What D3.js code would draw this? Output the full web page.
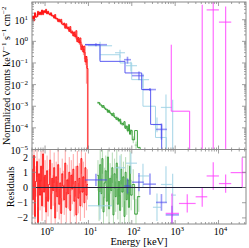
<!DOCTYPE html>
<html>
<head>
<meta charset="utf-8">
<script src="https://cdn.jsdelivr.net/npm/d3@7"></script>
<style>
body { margin: 0; background: #fff; }
svg { display: block; }
text { font-family: "Liberation Serif", "DejaVu Serif", serif; fill: #000; }
</style>
</head>
<body>
<div id="chart"></div>
<script>
// red: dense low energy spectrum
var redE = [0.500,0.527,0.556,0.587,0.619,0.653,0.689,0.727,0.767,0.809,0.853,0.900,0.950,1.002,1.057,1.115,1.176,1.241,1.309,1.381,1.457,1.537,1.622,1.711,1.805,1.904,2.009,2.119,2.236,2.359,2.488,2.625,2.770,2.922,3.082,3.252,3.431,3.619,3.818,4.028,4.250,4.483,4.730,4.990,5.264,5.554,5.859,6.181,6.521,6.880,7.258,7.657,8.078,8.523,8.991,9.486];
var redF = [11,13,12,15,14,17,16,19,21,20,24,22,25,23,24,21,22,19,20,17,16,15,14,12.5,12,10.5,10,8.8,8.5,7.6,7.2,6.1,6.0,5.2,4.9,4.3,4.1,3.5,3.3,2.9,2.7,2.3,2.1,1.8,1.6,1.35,1.2,1.0,0.85,0.7,0.55,0.42,0.3,0.2,0.11,0.07];
var redErr = [0.18,0.16,0.17,0.15,0.16,0.14,0.15,0.13,0.14,0.13,0.12,0.13,0.12,0.12,0.13,0.12,0.12,0.13,0.12,0.13,0.13,0.13,0.14,0.14,0.14,0.15,0.15,0.15,0.16,0.16,0.17,0.17,0.18,0.18,0.19,0.19,0.2,0.21,0.21,0.22,0.23,0.24,0.25,0.26,0.27,0.29,0.3,0.32,0.34,0.37,0.4,0.45,0.5,0.6,0.9,1.2];
var redRes = [1.2,-0.8,2.1,-1.9,0.4,1.7,-2.3,0.9,-0.5,1.4,-1.2,2.2,-0.3,0.8,-1.6,1.1,-0.9,0.2,1.8,-1.4,0.6,-0.2,1.3,-2.0,0.7,-0.6,1.5,-1.1,0.3,-1.7,0.9,0.1,-0.8,1.6,-1.3,0.5,-0.4,1.0,-1.5,0.8,-0.1,1.2,-0.9,0.4,-1.8,1.4,-0.7,0.6,-1.2,1.9,-0.3,0.7,-1.0,1.3,-0.5,0.2];

// green: hard x-ray spectrum
var greenE = [16.6,17.6,18.7,19.8,21.0,22.3,23.7,25.1,26.6,28.2,29.9,31.7,33.6,35.6,37.8,40.1,42.5,45.1,47.8,50.7,53.8,57.0,60.5,64.1,68.0,72.1,76.5,81.1,86.0,91.2,96.7,108,125,145];
var greenF = [1.5e-3,1.35e-3,1.3e-3,1.1e-3,1.05e-3,9.0e-4,8.5e-4,7.8e-4,6.6e-4,6.4e-4,5.5e-4,5.3e-4,4.4e-4,4.3e-4,3.7e-4,3.5e-4,2.8e-4,3.0e-4,2.4e-4,2.2e-4,1.9e-4,1.8e-4,1.5e-4,1.6e-4,1.2e-4,1.15e-4,1.0e-4,8.0e-5,9.5e-5,7.0e-5,6.5e-5,3.0e-5,1.6e-5,8e-6];
var greenErr = [0.08,0.08,0.09,0.09,0.09,0.1,0.1,0.1,0.11,0.11,0.11,0.12,0.12,0.13,0.13,0.14,0.14,0.15,0.15,0.16,0.17,0.17,0.18,0.19,0.2,0.21,0.22,0.23,0.25,0.27,0.3,0.35,0.45,0.6];
var greenRes = [0.8,-1.2,1.5,-0.4,1.9,-1.6,0.3,1.1,-0.9,2.0,-1.4,0.6,-0.2,1.3,-1.8,0.9,-0.6,1.6,-1.1,0.4,-1.5,1.2,-0.3,0.7,-1.9,1.0,-0.8,0.5,-1.3,1.4,-0.5,0.2,-1.75,-0.6];

// dark blue instrument
var blueModelEdges = [8.35,18.5,69.7,169,272,489];
var blueModelF = [0.70,0.119,0.0346,5.9e-3,1.44e-4];
var blueE = [14.9,79.6,146.5,262.6,483,844];
var blueELo = [8.35,66.1,101,181,361,604];
var blueEHi = [26.8,95.8,190,361,646,1223];
var blueF = [0.70,0.142,0.026,5.9e-3,8.5e-5,5e-6];
var blueFLo = [0.60,0.093,0.017,5.0e-3,2.9e-5,2e-6];
var blueFHi = [0.82,0.195,0.04,6.9e-3,1.6e-4,8e-6];
var blueRes = [0.5,0.1,0.35,0.22,-0.98,-1.8];
var blueResErr = [0.4,0.5,0.6,0.7,0.55,0.6];

// light blue instrument
var cyanModelEdges = [18.5,53.5,99.5,181,352,630];
var cyanModelF = [0.241,0.1,0.017,1.0e-3,3.6e-5];
var cyanE = [18.5,53.5,95.3,181,381,614,875];
var cyanELo = [9.8,41,73.5,139,307,469,804];
var cyanEHi = [35.1,69.7,132,250,470,840,1040];
var cyanF = [0.627,0.298,0.075,0.017,1.4e-4,8.8e-4,1e-7];
var cyanFLo = [0.142,0.176,0.04,7.2e-3,6.2e-5,1e-8,1e-8];
var cyanFHi = [0.96,0.41,0.115,0.032,3.0e-4,3.5e-3,2.0e-3];
var cyanRes = [-1.2,1.3,1.6,0.76,-1.3,0.2,-0.5];
var cyanResErr = [0.9,0.8,0.7,0.8,0.9,1.2,1.4];

// magenta instrument
var magModelEdges = [813,813,2158];
var magModelF = [0.70,5.9e-4];
var magE = [844,1900,4207,7551,14584,35163];
var magELo = [604,1223,2967,5321,10216,19010];
var magEHi = [1223,2967,5495,10216,19634,45100];
var magF = [1e-7,1e-7,1e-7,28.5,7.75,1e-7];
var magFLo = [1e-8,1e-8,1e-8,1e-8,1e-8,1e-8];
var magFHi = [1e-7,1e-7,48.6,1e4,40.6,1e-7];
var magRes = [-1.7,-1.05,-0.61,0.76,0.26,0.98];
var magResErr = [1.3,0.6,0.65,0.9,0.6,1.0];

var xTicks = [1, 10, 100, 1000, 10000];
var fluxTicks = [1e-5, 1e-4, 1e-3, 1e-2, 1e-1, 1, 10];
var resTicks = [-2, -1, 0, 1, 2];

var width = 249, height = 248,
    plotLeft = 32, plotRight = 246, plotTop = 2, plotMid = 149.5, plotBottom = 224,
    frameColor = '#888';

var svg = d3.select('#chart').append('svg')
    .attr('width', width)
    .attr('height', height);

var x = d3.scaleLog().domain([0.5, 43000]).range([plotLeft, plotRight]);
var yFlux = d3.scaleLog().domain([1e-5, 66]).range([plotMid, plotTop]);
var yRes = d3.scaleLinear().domain([-2.4, 2.5]).range([plotBottom, plotMid]);

function fy(v) { return yFlux(Math.max(v, 1e-9)); }

var defs = svg.append('defs');
defs.append('clipPath').attr('id', 'clipTop').append('rect')
    .attr('x', plotLeft).attr('y', plotTop)
    .attr('width', plotRight - plotLeft).attr('height', plotMid - plotTop);
defs.append('clipPath').attr('id', 'clipRes').append('rect')
    .attr('x', plotLeft).attr('y', plotMid)
    .attr('width', plotRight - plotLeft).attr('height', plotBottom - plotMid);

var gTop = svg.append('g').attr('clip-path', 'url(#clipTop)');
var gRes = svg.append('g').attr('clip-path', 'url(#clipRes)');

// bin edges from centres (geometric midpoints)
function edges(e) {
    var lo = [], hi = [];
    e.forEach(function(c, i) {
        var prev = i > 0 ? e[i - 1] : c * c / e[i + 1];
        var next = i < e.length - 1 ? e[i + 1] : c * c / e[i - 1];
        lo.push(Math.sqrt(prev * c));
        hi.push(Math.sqrt(c * next));
    });
    return {lo: lo, hi: hi};
}

function stepPath(g, lo, hi, vals, color, w, op) {
    var pts = [];
    vals.forEach(function(v, i) {
        pts.push([x(lo[i]), fy(v)]);
        pts.push([x(hi[i]), fy(v)]);
    });
    pts.push([x(hi[hi.length - 1]), fy(1e-9)]);
    g.append('path')
        .attr('d', d3.line()(pts))
        .attr('fill', 'none')
        .attr('stroke', color)
        .attr('stroke-width', w)
        .attr('opacity', op);
}

function crosses(g, e, lo, hi, yc, ylo, yhi, color, w, op) {
    e.forEach(function(c, i) {
        g.append('line')
            .attr('x1', x(lo[i])).attr('x2', x(hi[i]))
            .attr('y1', yc[i]).attr('y2', yc[i])
            .attr('stroke', color).attr('stroke-width', w).attr('opacity', op);
        g.append('line')
            .attr('x1', x(c)).attr('x2', x(c))
            .attr('y1', ylo[i]).attr('y2', yhi[i])
            .attr('stroke', color).attr('stroke-width', w).attr('opacity', op);
    });
}

function resLine(g, lo, hi, res, color, op) {
    var pts = [];
    res.forEach(function(r, i) {
        pts.push([x(lo[i]), yRes(r)]);
        pts.push([x(hi[i]), yRes(r)]);
    });
    g.append('path').attr('d', d3.line()(pts))
        .attr('fill', 'none').attr('stroke', color).attr('stroke-width', 1).attr('opacity', op);
}

// dense series: red and green
function dense(e, f, err, res, color) {
    var b = edges(e);
    var model = f.map(function(v, i) { return v / (1 + res[i] * err[i]); });
    crosses(gTop, e, b.lo, b.hi,
        f.map(function(v) { return fy(v); }),
        f.map(function(v, i) { return fy(v * (1 - err[i])); }),
        f.map(function(v, i) { return fy(v * (1 + err[i])); }),
        color, 1, 0.4);
    stepPath(gTop, b.lo, b.hi, model, color, 1, 0.9);
    crosses(gRes, e, b.lo, b.hi,
        res.map(function(r) { return yRes(r); }),
        res.map(function(r) { return yRes(r - 1); }),
        res.map(function(r) { return yRes(r + 1); }),
        color, 1, 0.35);
    resLine(gRes, b.lo, b.hi, res, color, 0.8);
}

// binned series with explicit crosses
function binned(mEdges, mVals, e, lo, hi, f, flo, fhi, res, resErr, color, w, op) {
    stepPath(gTop, mEdges.slice(0, -1), mEdges.slice(1), mVals, color, 1, 0.9);
    crosses(gTop, e, lo, hi,
        f.map(fy), flo.map(fy), fhi.map(fy), color, w, op);
    crosses(gRes, e, lo, hi,
        res.map(function(r) { return yRes(r); }),
        res.map(function(r, i) { return yRes(r - resErr[i]); }),
        res.map(function(r, i) { return yRes(r + resErr[i]); }),
        color, w, op);
}

dense(redE, redF, redErr, redRes, '#ff0000');
dense(greenE, greenF, greenErr, greenRes, '#2e9a2e');
binned(cyanModelEdges, cyanModelF, cyanE, cyanELo, cyanEHi, cyanF, cyanFLo, cyanFHi,
    cyanRes, cyanResErr, '#9fd3e6', 1.2, 0.8);
binned(blueModelEdges, blueModelF, blueE, blueELo, blueEHi, blueF, blueFLo, blueFHi,
    blueRes, blueResErr, '#4a4af0', 1.6, 0.55);
binned(magModelEdges, magModelF, magE, magELo, magEHi, magF, magFLo, magFHi,
    magRes, magResErr, '#ff3cff', 1.2, 0.75);

// zero line
gRes.append('line')
    .attr('x1', plotLeft).attr('x2', plotRight)
    .attr('y1', yRes(0)).attr('y2', yRes(0))
    .attr('stroke', '#20203a').attr('stroke-width', 1);

// frames
[[plotTop, plotMid], [plotMid, plotBottom]].forEach(function(p) {
    svg.append('rect')
        .attr('x', plotLeft).attr('y', p[0])
        .attr('width', plotRight - plotLeft).attr('height', p[1] - p[0])
        .attr('fill', 'none').attr('stroke', frameColor).attr('stroke-width', 1);
});

// ticks
var gTicks = svg.append('g').attr('stroke', frameColor).attr('stroke-width', 0.8);
var xMinor = [];
[0.1, 1, 10, 100, 1000, 10000].forEach(function(d) {
    for (var k = 2; k < 10; k++) {
        var v = d * k;
        if (v >= 0.5 && v <= 43000) xMinor.push(v);
    }
});
[[plotTop, plotMid], [plotMid, plotBottom]].forEach(function(p) {
    xTicks.forEach(function(t) {
        gTicks.append('line').attr('x1', x(t)).attr('x2', x(t)).attr('y1', p[1]).attr('y2', p[1] - 4);
        gTicks.append('line').attr('x1', x(t)).attr('x2', x(t)).attr('y1', p[0]).attr('y2', p[0] + 4);
    });
    xMinor.forEach(function(t) {
        gTicks.append('line').attr('x1', x(t)).attr('x2', x(t)).attr('y1', p[1]).attr('y2', p[1] - 2);
        gTicks.append('line').attr('x1', x(t)).attr('x2', x(t)).attr('y1', p[0]).attr('y2', p[0] + 2);
    });
});
fluxTicks.forEach(function(t) {
    gTicks.append('line').attr('x1', plotLeft).attr('x2', plotLeft + 4).attr('y1', yFlux(t)).attr('y2', yFlux(t));
    gTicks.append('line').attr('x1', plotRight).attr('x2', plotRight - 4).attr('y1', yFlux(t)).attr('y2', yFlux(t));
    for (var k = 2; k < 10; k++) {
        var v = t * k;
        if (v > 66) continue;
        gTicks.append('line').attr('x1', plotLeft).attr('x2', plotLeft + 2).attr('y1', yFlux(v)).attr('y2', yFlux(v));
        gTicks.append('line').attr('x1', plotRight).attr('x2', plotRight - 2).attr('y1', yFlux(v)).attr('y2', yFlux(v));
    }
});
resTicks.forEach(function(t) {
    gTicks.append('line').attr('x1', plotLeft).attr('x2', plotLeft + 4).attr('y1', yRes(t)).attr('y2', yRes(t));
    gTicks.append('line').attr('x1', plotRight).attr('x2', plotRight - 4).attr('y1', yRes(t)).attr('y2', yRes(t));
});

function minus(n) { return n < 0 ? '\u2212' + (-n) : '' + n; }

function powLabel(sel, exp) {
    sel.append('tspan').text('10');
    sel.append('tspan').attr('dy', -4).attr('font-size', 7).text(minus(exp));
}

fluxTicks.forEach(function(t) {
    var lbl = svg.append('text')
        .attr('x', 28).attr('y', yFlux(t) + 4)
        .attr('text-anchor', 'end').attr('font-size', 10);
    powLabel(lbl, Math.round(Math.log10(t)));
});
resTicks.forEach(function(t) {
    svg.append('text')
        .attr('x', 28).attr('y', yRes(t) + 3.5)
        .attr('text-anchor', 'end').attr('font-size', 10)
        .text(minus(t));
});
xTicks.forEach(function(t) {
    var lbl = svg.append('text')
        .attr('x', x(t) + 2).attr('y', 235)
        .attr('text-anchor', 'middle').attr('font-size', 10);
    powLabel(lbl, Math.round(Math.log10(t)));
});

// axis titles
var yl = svg.append('text')
    .attr('transform', 'translate(10,' + ((plotTop + plotMid) / 2) + ') rotate(-90)')
    .attr('text-anchor', 'middle').attr('font-size', 10);
[['Normalized counts keV', 0], ['\u22121', -4], [' s', 4], ['\u22121', -4], [' cm', 4], ['\u22122', -4]]
    .forEach(function(p) {
        var ts = yl.append('tspan').attr('dy', p[1]).text(p[0]);
        if (p[1] < 0) ts.attr('font-size', 7);
    });

svg.append('text')
    .attr('transform', 'translate(14,' + ((plotMid + plotBottom) / 2) + ') rotate(-90)')
    .attr('text-anchor', 'middle').attr('font-size', 10.5)
    .text('Residuals');

svg.append('text')
    .attr('x', (plotLeft + plotRight) / 2).attr('y', 245)
    .attr('text-anchor', 'middle').attr('font-size', 10.5)
    .text('Energy [keV]');
</script>
</body>
</html>
